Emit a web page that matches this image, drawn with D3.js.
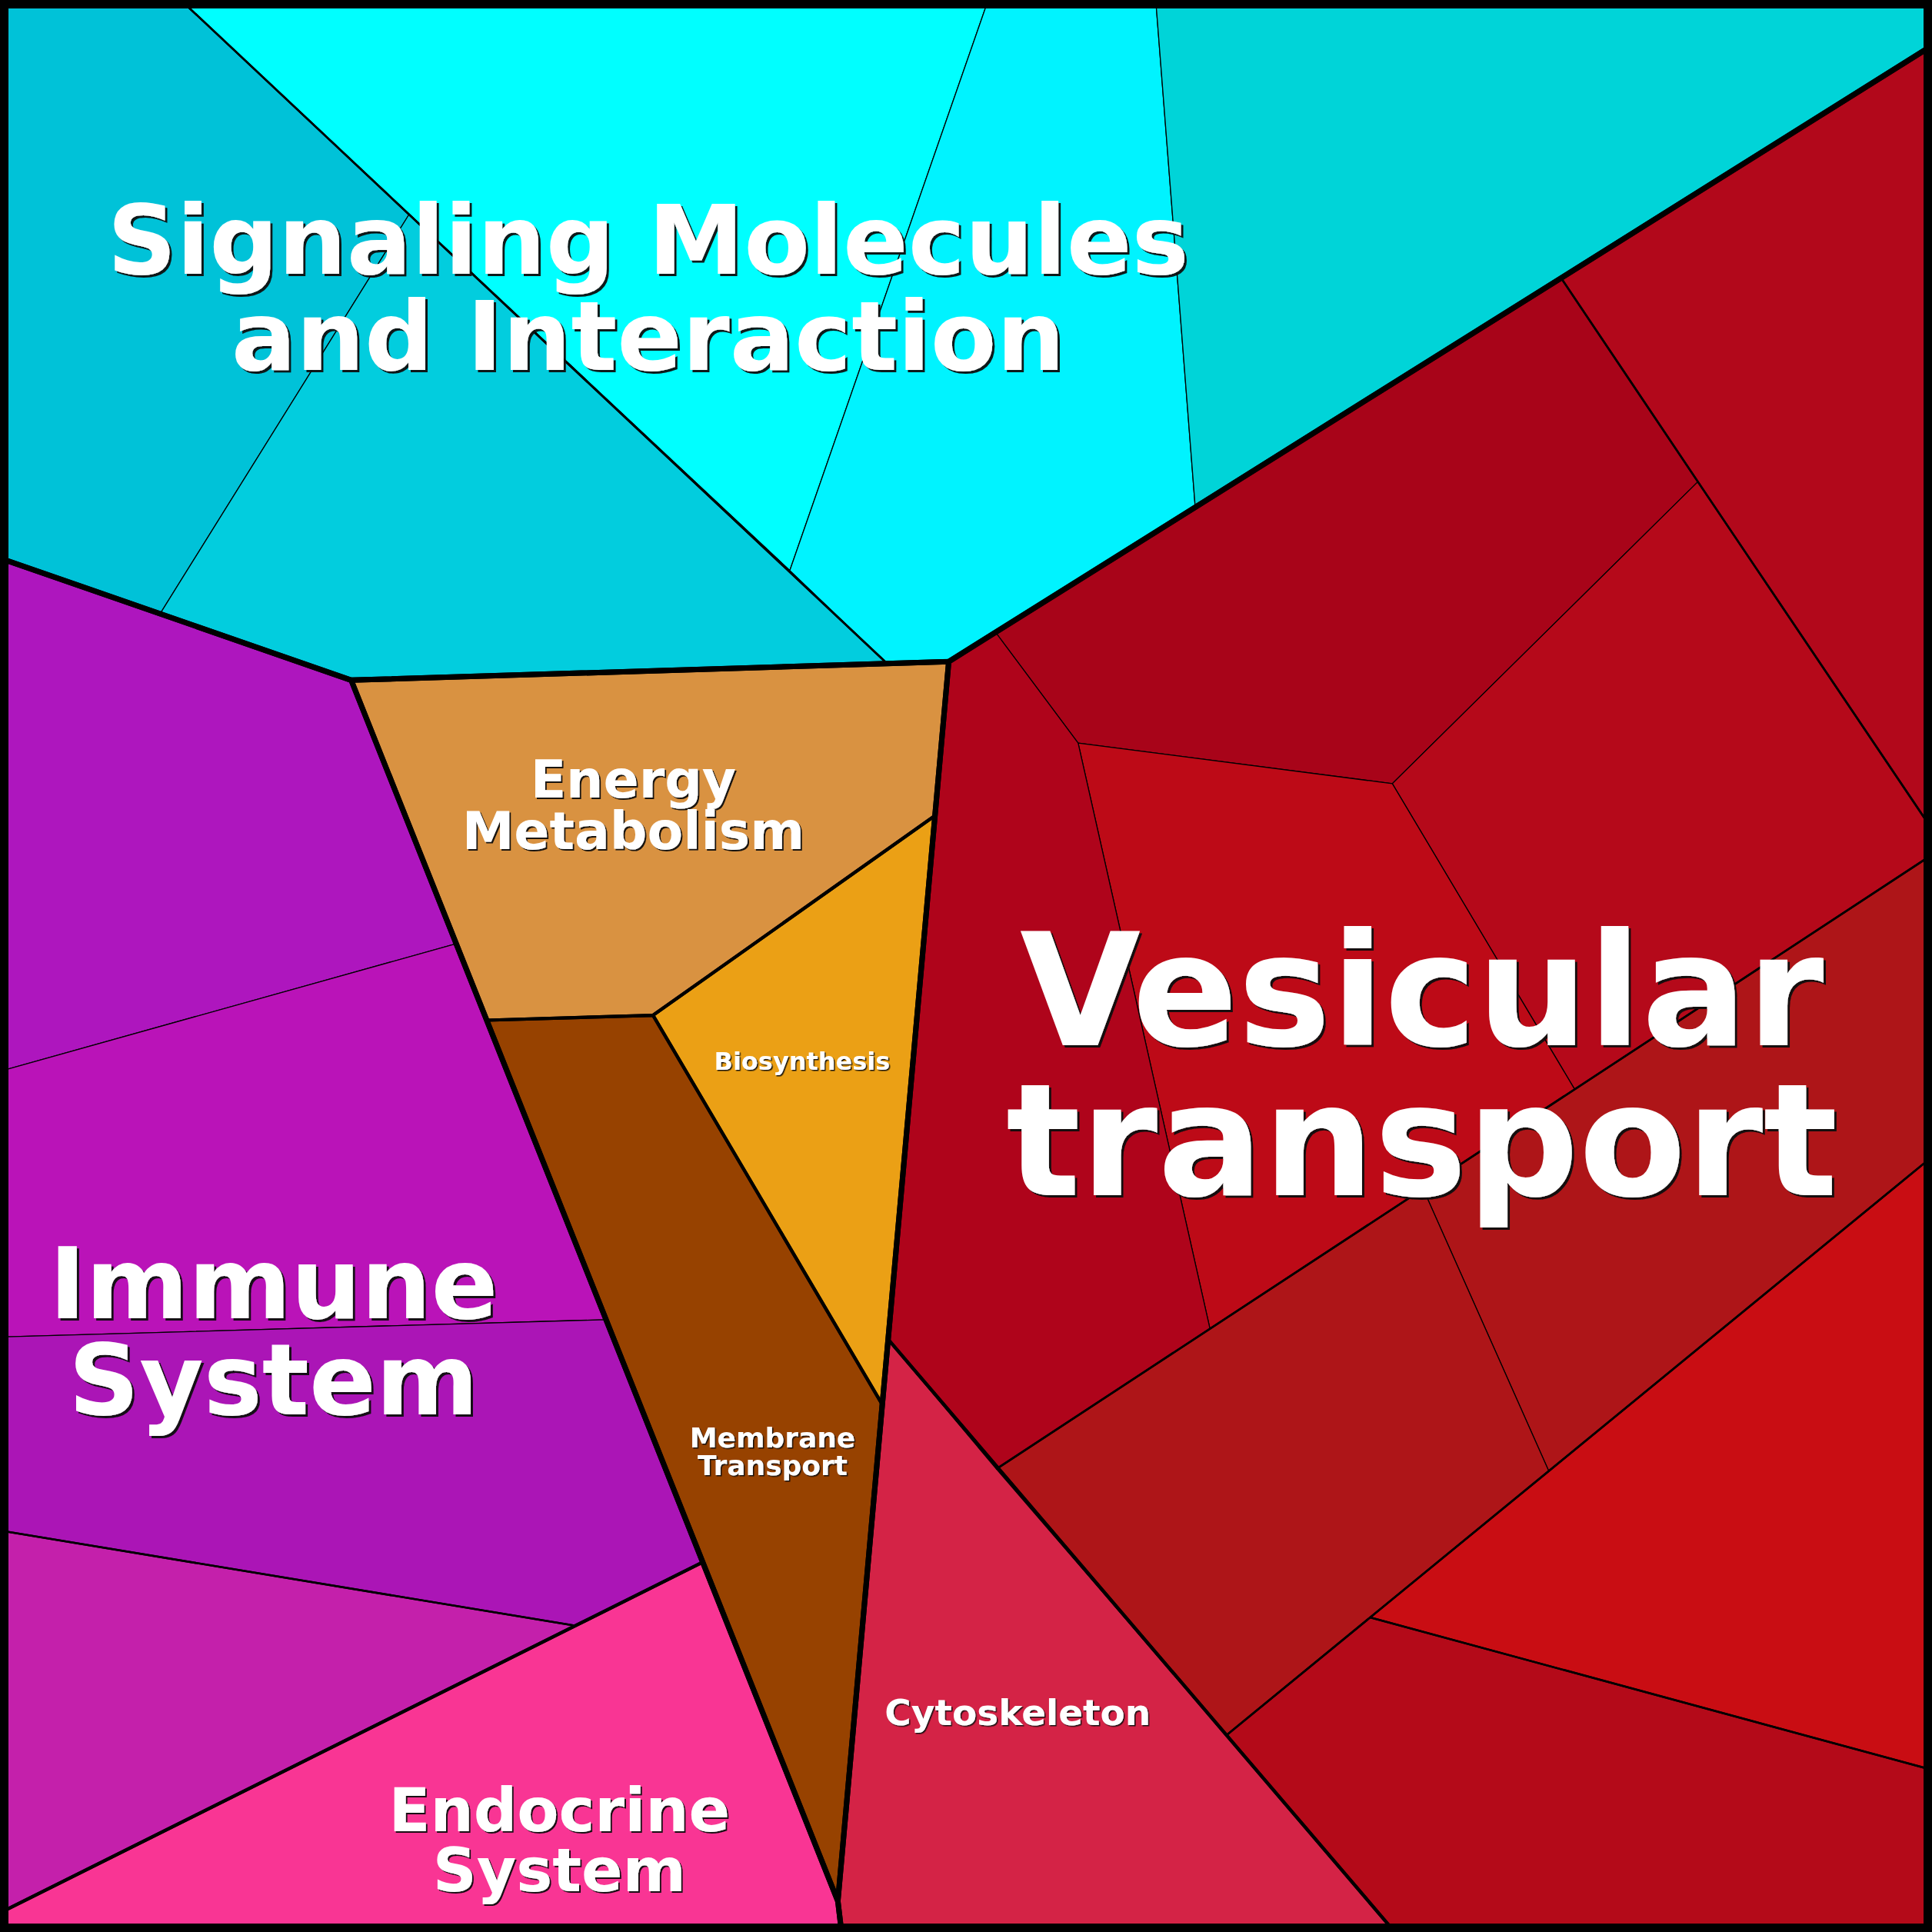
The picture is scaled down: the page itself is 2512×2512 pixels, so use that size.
<!DOCTYPE html>
<html><head><meta charset="utf-8">
<script src="https://cdn.jsdelivr.net/npm/d3@7"></script>
<style>html,body{margin:0;padding:0;background:#fff}svg{display:block}</style>
</head><body>
<script>
// ---- Data (layout units: 0..1568 square) ----
// Level-1 groups
const groupNames = ["Environmental Information Processing","Cellular Processes","Metabolism","Organismal Systems"];
const groupPolys = [
  [[0,0],[1568,0],[1568,37],[770,537],[285,552],[0,453]],
  [[770,537],[1568,37],[1568,1568],[683,1568],[680,1543]],
  [[285,552],[770,537],[680,1543]],
  [[0,453],[285,552],[680,1543],[683,1568],[0,1568]]
];
// Level-2 categories
const categoryNames = ["Signaling Molecules and Interaction","Vesicular transport","Cytoskeleton","Energy Metabolism","Biosynthesis","Membrane Transport","Immune System","Endocrine System"];
const categoryPolys = [
  [[0,0],[1568,0],[1568,37],[770,537],[285,552],[0,453]],
  [[770,537],[1568,37],[1568,1568],[1132,1568],[720.8,1087]],
  [[720.8,1087],[1132,1568],[683,1568],[680,1543]],
  [[285,552],[770,537],[758.8,662],[530,824],[395,828]],
  [[758.8,662],[716.1,1140],[530,824]],
  [[395,828],[530,824],[716.1,1140],[680,1543]],
  [[0,453],[285,552],[370,766],[492,1071],[570,1268],[467,1319.4],[0,1552.5]],
  [[0,1552.5],[570,1268],[680,1543],[683,1568],[0,1568]]
];
// Level-3 sub-groups
const subgroupPolys = [
  [[0,0],[146.7,0],[720,538.5],[285,552],[0,453]],
  [[146.7,0],[1568,0],[1568,37],[770,537],[720,538.5]],
  [[770,537],[1267,225.6],[1378,391],[1568,673],[1568,693.7],[809,1192],[720.8,1087]],
  [[1267,225.6],[1568,37],[1568,673],[1378,391]],
  [[809,1192],[1568,693.7],[1568,938.9],[995.5,1408.2]],
  [[1257,1193.9],[1568,938.9],[1568,1436.4],[1112,1312.7]],
  [[1112,1312.7],[1568,1436.4],[1568,1568],[1132,1568],[995.5,1408.2]],
  [[0,453],[285,552],[570,1268],[467,1319.4],[0,1242.2]],
  [[0,1242.2],[467,1319.4],[0,1552.5]]
];
// Leaf cells
const cellPolys = [
  // Signaling
  [[0,0],[146.7,0],[332,174],[130,498],[0,453]],
  [[146.7,0],[802,0],[641,463]],
  [[332,174],[641,463],[720,538.5],[285,552],[130,498]],
  [[802,0],[938,0],[970,411],[770,537],[720,538.5],[641,463]],
  [[938,0],[1568,0],[1568,37],[970,411]],
  // Vesicular transport
  [[808,513.2],[1267,225.6],[1378,391],[1130,636],[875,603]],
  [[1267,225.6],[1568,37],[1568,673],[1378,391]],
  [[1378,391],[1568,673],[1568,693.7],[1278,884.1],[1130,636]],
  [[875,603],[1130,636],[1278,884.1],[982,1078.4]],
  [[770,537],[808,513.2],[875,603],[982,1078.4],[809,1192],[720.8,1087]],
  [[1155,964.8],[1278,884.1],[1568,693.7],[1568,938.9],[1257,1193.9]],
  [[809,1192],[982,1078.4],[1155,964.8],[1257,1193.9],[1112,1312.7],[995.5,1408.2]],
  [[1257,1193.9],[1568,938.9],[1568,1436.4],[1112,1312.7]],
  [[1112,1312.7],[1568,1436.4],[1568,1568],[1132,1568],[995.5,1408.2]],
  // Cytoskeleton
  [[720.8,1087],[1132,1568],[683,1568],[680,1543]],
  // Metabolism
  [[285,552],[770,537],[758.8,662],[530,824],[395,828]],
  [[758.8,662],[716.1,1140],[530,824]],
  [[395,828],[530,824],[716.1,1140],[680,1543]],
  // Immune
  [[0,453],[285,552],[370,766],[0,869.4]],
  [[0,869.4],[370,766],[492,1071],[0,1085.1]],
  [[0,1085.1],[492,1071],[570,1268],[467,1319.4],[0,1242.2]],
  [[0,1242.2],[467,1319.4],[0,1552.5]],
  // Endocrine
  [[0,1552.5],[570,1268],[680,1543],[683,1568],[0,1568]]
];
const cellColors = [
  "#00C2D8","#00FFFF","#02CDDE","#00F3FF","#00D4D8",
  "#A80419","#B2081B","#B5091A","#BD0A17","#AF041B","#AE1518","#AE1518","#C90D13","#B40A19",
  "#D42346",
  "#D99241","#EBA015","#974200",
  "#AE16BE","#BA13B8","#AB15B6","#C420AB",
  "#F93594"
];
// Category label lines
const labelLines = [
  ["Signaling Molecules","and Interaction"],
  ["Vesicular","transport"],
  ["Cytoskeleton"],
  ["Energy","Metabolism"],
  ["Biosynthesis"],
  ["Membrane","Transport"],
  ["Immune","System"],
  ["Endocrine","System"]
];

// ---- Layout / style (not data) ----
const W = 2512, H = 2512;
const labelLayout = [
  {x:526, y:[222,300], size:125},
  {x:1154, y:[848,970], size:203},
  {x:826, y:[1400], size:47},
  {x:514, y:[647,689], size:68},
  {x:651, y:[868], size:32},
  {x:627, y:[1175,1197], size:36},
  {x:222, y:[1070,1148], size:128},
  {x:454, y:[1486,1535], size:79}
];

const x = d3.scaleLinear().domain([0,1568]).range([0,W]);
const y = d3.scaleLinear().domain([0,1568]).range([0,H]);
const line = d3.line().x(d=>x(d[0])).y(d=>y(d[1])).curve(d3.curveLinearClosed);

const svg = d3.select("body").append("svg").attr("width",W).attr("height",H);

const defs = svg.append("defs");
[1.5,2,3].forEach((o,k)=>{
  defs.append("filter").attr("id","sh"+k).attr("x","-10%").attr("y","-10%").attr("width","120%").attr("height","130%")
    .append("feDropShadow").attr("dx",o).attr("dy",o).attr("stdDeviation",0.3)
    .attr("flood-color","#111").attr("flood-opacity",0.95);
});

svg.append("g").selectAll("path").data(cellPolys).join("path")
  .attr("d",line).attr("fill",(d,i)=>cellColors[i])
  .attr("stroke","#000").attr("stroke-width",1.3).attr("stroke-linejoin","round");

svg.append("g").selectAll("path").data(subgroupPolys).join("path")
  .attr("d",line).attr("fill","none").attr("stroke","#000").attr("stroke-width",2.6).attr("stroke-linejoin","round");

svg.append("g").selectAll("path").data(categoryPolys).join("path")
  .attr("d",line).attr("fill","none").attr("stroke","#000").attr("stroke-width",4.2).attr("stroke-linejoin","round");

svg.append("g").selectAll("path").data(groupPolys).join("path")
  .attr("d",line).attr("fill","none").attr("stroke","#000").attr("stroke-width",7).attr("stroke-linejoin","round");

svg.append("rect").attr("x",0).attr("y",0).attr("width",W).attr("height",H)
  .attr("fill","none").attr("stroke","#000").attr("stroke-width",22);

const lg = svg.append("g").attr("font-family","DejaVu Sans, sans-serif").attr("font-weight","bold").attr("text-anchor","middle");
labelLines.forEach((lines,i)=>{
  const L = labelLayout[i];
  const k = L.size > 100 ? 2 : (L.size > 60 ? 1 : 0);
  const t = lg.append("text").attr("x",x(L.x)).attr("y",y(L.y[0]))
    .attr("font-size",L.size).attr("fill","#fff").attr("filter","url(#sh"+k+")");
  lines.forEach((s,j)=>{
    t.append("tspan").attr("x",x(L.x)).attr("y",y(L.y[j])).text(s);
  });
});
</script>
</body></html>
